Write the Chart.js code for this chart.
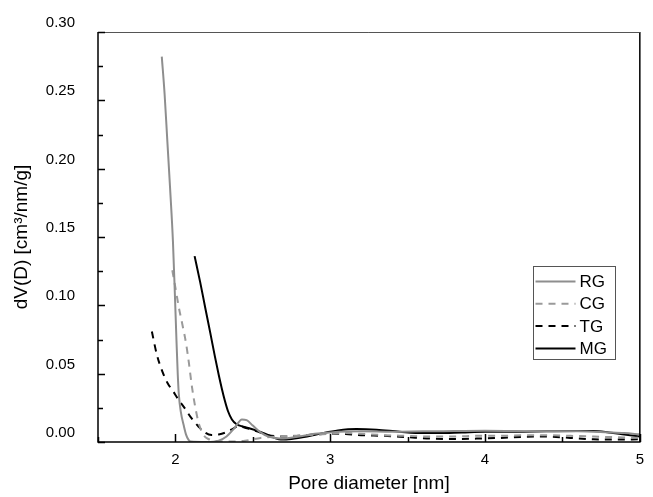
<!DOCTYPE html>
<html>
<head>
<meta charset="utf-8">
<script src="https://cdn.jsdelivr.net/npm/chart.js@4/dist/chart.umd.min.js"></script>
<style>
  html, body { margin: 0; padding: 0; background: #fff; }
  #wrap { width: 653px; height: 497px; }
</style>
</head>
<body>
<div id="wrap"><canvas id="c" width="653" height="497"></canvas></div>
<script>
// ---- data ----
const seriesLabels = ['RG', 'CG', 'TG', 'MG'];

const rgX = [1.912, 1.93, 1.948, 1.966, 1.984, 1.996, 2.007, 2.015, 2.022, 2.035, 2.054, 2.07, 2.085, 2.1, 2.2, 2.28, 2.33, 2.38, 2.43, 2.46, 2.5, 2.55, 2.6, 2.68, 2.8, 2.9, 3.0, 3.2, 3.4, 3.6, 3.8, 4.0, 4.2, 4.4, 4.6, 4.8, 4.9, 5.0];
const rgY = [0.282, 0.255, 0.22, 0.185, 0.147, 0.11, 0.074, 0.05, 0.035, 0.022, 0.012, 0.005, 0.0015, 0.0003, 0.0, 0.001, 0.004, 0.010, 0.0165, 0.016, 0.012, 0.007, 0.004, 0.0025, 0.004, 0.006, 0.007, 0.0078, 0.0075, 0.0078, 0.008, 0.0082, 0.008, 0.0078, 0.0078, 0.007, 0.0065, 0.0056];

const cgX = [1.98, 2.0, 2.022, 2.045, 2.069, 2.087, 2.107, 2.128, 2.15, 2.171, 2.19, 2.213, 2.25, 2.35, 2.45, 2.55, 2.65, 2.75, 2.85, 3.0, 3.1, 3.2, 3.35, 3.5, 3.65, 3.8, 3.95, 4.1, 4.25, 4.4, 4.55, 4.7, 4.85, 5.0];
const cgY = [0.1257, 0.113, 0.0986, 0.086, 0.072, 0.058, 0.0403, 0.0257, 0.014, 0.0075, 0.004, 0.0022, 0.0008, 0.0003, 0.001, 0.003, 0.004, 0.0045, 0.005, 0.006, 0.0065, 0.006, 0.005, 0.0045, 0.004, 0.004, 0.0045, 0.0045, 0.005, 0.005, 0.0045, 0.004, 0.0035, 0.003];

const tgX = [1.848, 1.88, 1.916, 1.95, 1.984, 2.02, 2.06, 2.1, 2.15, 2.192, 2.234, 2.28, 2.32, 2.36, 2.404, 2.45, 2.52, 2.6, 2.7, 2.8, 2.9, 3.0, 3.1, 3.2, 3.35, 3.5, 3.65, 3.8, 3.95, 4.1, 4.25, 4.4, 4.55, 4.7, 4.85, 5.0];
const tgY = [0.0808, 0.064, 0.0515, 0.043, 0.0373, 0.031, 0.0248, 0.018, 0.0112, 0.0068, 0.0051, 0.0055, 0.0068, 0.009, 0.0112, 0.0105, 0.008, 0.005, 0.004, 0.0045, 0.0055, 0.006, 0.0058, 0.005, 0.0045, 0.0035, 0.0025, 0.0022, 0.0025, 0.003, 0.0038, 0.004, 0.003, 0.002, 0.0018, 0.002];

const mgX = [2.124, 2.16, 2.192, 2.225, 2.256, 2.28, 2.3, 2.32, 2.34, 2.365, 2.395, 2.43, 2.47, 2.52, 2.575, 2.68, 2.75, 2.85, 2.95, 3.05, 3.17, 3.3, 3.45, 3.6, 3.7, 3.85, 4.0, 4.2, 4.4, 4.6, 4.7, 4.8, 4.9, 5.0];
const mgY = [0.136, 0.117, 0.0986, 0.08, 0.0621, 0.049, 0.039, 0.030, 0.0225, 0.0165, 0.013, 0.0115, 0.0103, 0.0085, 0.0063, 0.0018, 0.0022, 0.004, 0.0065, 0.0085, 0.0095, 0.009, 0.0075, 0.0065, 0.0065, 0.007, 0.0075, 0.0075, 0.0078, 0.008, 0.008, 0.007, 0.0055, 0.004];

const xMin = 1.5, xMax = 5.0, xStep = 0.5;
const yMin = 0, yMax = 0.30, yStep = 0.025;
const xTitle = 'Pore diameter [nm]';
const yTitle = 'dV(D) [cm\u00B3/nm/g]';

function pts(xs, ys) { return xs.map((x, i) => ({ x: x, y: ys[i] })); }

const FONT = 'Liberation Sans, Arial, sans-serif';

const styles = [
  { color: '#8e8e8e', dash: [] },
  { color: '#9a9a9a', dash: [7, 6] },
  { color: '#000000', dash: [7, 6] },
  { color: '#000000', dash: [] }
];
const dataXY = [[rgX, rgY], [cgX, cgY], [tgX, tgY], [mgX, mgY]];

const datasets = seriesLabels.map((lab, i) => ({
  label: lab,
  data: pts(dataXY[i][0], dataXY[i][1]),
  borderColor: styles[i].color,
  borderDash: styles[i].dash,
  borderWidth: 2,
  pointRadius: 0,
  fill: false,
  cubicInterpolationMode: 'monotone'
}));

const framePlugin = {
  id: 'frame',
  afterDraw(chart) {
    const ctx = chart.ctx;
    const a = chart.chartArea;
    const xs = chart.scales.x, ys = chart.scales.y;
    ctx.save();
    ctx.strokeStyle = '#000';
    ctx.lineWidth = 1.5;
    ctx.beginPath();
    ctx.moveTo(a.left, a.top); ctx.lineTo(a.left, a.bottom); ctx.lineTo(a.right, a.bottom); ctx.lineTo(a.right, a.top);
    ctx.stroke();
    ctx.strokeStyle = '#555';
    ctx.lineWidth = 1;
    ctx.beginPath();
    ctx.moveTo(a.left, a.top + 0.5); ctx.lineTo(a.right, a.top + 0.5);
    ctx.stroke();
    ctx.strokeStyle = '#000';
    ctx.lineWidth = 1.5;
    ctx.beginPath();
    xs.ticks.forEach(t => {
      const px = Math.round(xs.getPixelForValue(t.value)) + 0.5;
      const major = Math.abs(t.value - Math.round(t.value)) < 1e-6;
      const len = major ? 8 : 5;
      ctx.moveTo(px, a.bottom); ctx.lineTo(px, a.bottom - len);
    });
    ys.ticks.forEach(t => {
      const py = Math.round(ys.getPixelForValue(t.value)) + 0.5;
      const major = Math.abs(t.value * 20 - Math.round(t.value * 20)) < 1e-6;
      const len = major ? 7 : 5;
      ctx.moveTo(a.left, py); ctx.lineTo(a.left + len, py);
    });
    ctx.stroke();
    ctx.restore();
  }
};

const legendPlugin = {
  id: 'boxLegend',
  afterDraw(chart) {
    const ctx = chart.ctx;
    const bx = 533.5, by = 266.5, bw = 82, bh = 93;
    ctx.save();
    ctx.fillStyle = '#fff';
    ctx.fillRect(bx, by, bw, bh);
    ctx.strokeStyle = '#555';
    ctx.lineWidth = 1;
    ctx.strokeRect(bx, by, bw, bh);
    ctx.font = '17px ' + FONT;
    ctx.textBaseline = 'middle';
    ctx.textAlign = 'left';
    chart.data.datasets.forEach((ds, i) => {
      const y = by + 15 + i * 22.3;
      ctx.strokeStyle = ds.borderColor;
      ctx.lineWidth = ds.borderWidth;
      ctx.setLineDash(ds.borderDash || []);
      ctx.beginPath();
      ctx.moveTo(bx + 2, y); ctx.lineTo(bx + 42, y);
      ctx.stroke();
      ctx.setLineDash([]);
      ctx.fillStyle = '#000';
      ctx.fillText(ds.label, bx + 46, y + 1);
    });
    ctx.restore();
  }
};

new Chart(document.getElementById('c'), {
  type: 'line',
  data: { datasets: datasets },
  options: {
    responsive: false,
    animation: false,
    layout: { padding: { top: 30, right: 4, left: 0, bottom: 0 } },
    plugins: { legend: { display: false }, tooltip: { enabled: false } },
    scales: {
      x: {
        type: 'linear',
        min: xMin, max: xMax,
        afterFit(s) { s.height = 55; },
        grid: { display: false, drawTicks: false },
        border: { display: false },
        ticks: {
          stepSize: xStep,
          autoSkip: false,
          maxRotation: 0,
          padding: 9,
          color: '#000',
          font: { family: FONT, size: 15 },
          callback(v) {
            if (Math.abs(v - Math.round(v)) < 1e-6 && v > xMin + 1e-6) return String(Math.round(v));
            return '';
          }
        },
        title: {
          display: true,
          text: xTitle,
          color: '#000',
          font: { family: FONT, size: 19 },
          padding: { top: 0, bottom: 1.5 }
        }
      },
      y: {
        min: yMin, max: yMax,
        afterFit(s) { s.width = 98; },
        grid: { display: false, drawTicks: false },
        border: { display: false },
        ticks: {
          stepSize: yStep,
          autoSkip: false,
          padding: 23,
          labelOffset: -9,
          color: '#000',
          font: { family: FONT, size: 15 },
          callback(v) {
            if (Math.abs(v * 20 - Math.round(v * 20)) < 1e-6) return v.toFixed(2);
            return '';
          }
        },
        title: {
          display: true,
          text: yTitle,
          color: '#000',
          font: { family: FONT, size: 19 },
          padding: { top: 10.5, bottom: 0 }
        }
      }
    }
  },
  plugins: [framePlugin, legendPlugin]
});
</script>
</body>
</html>
